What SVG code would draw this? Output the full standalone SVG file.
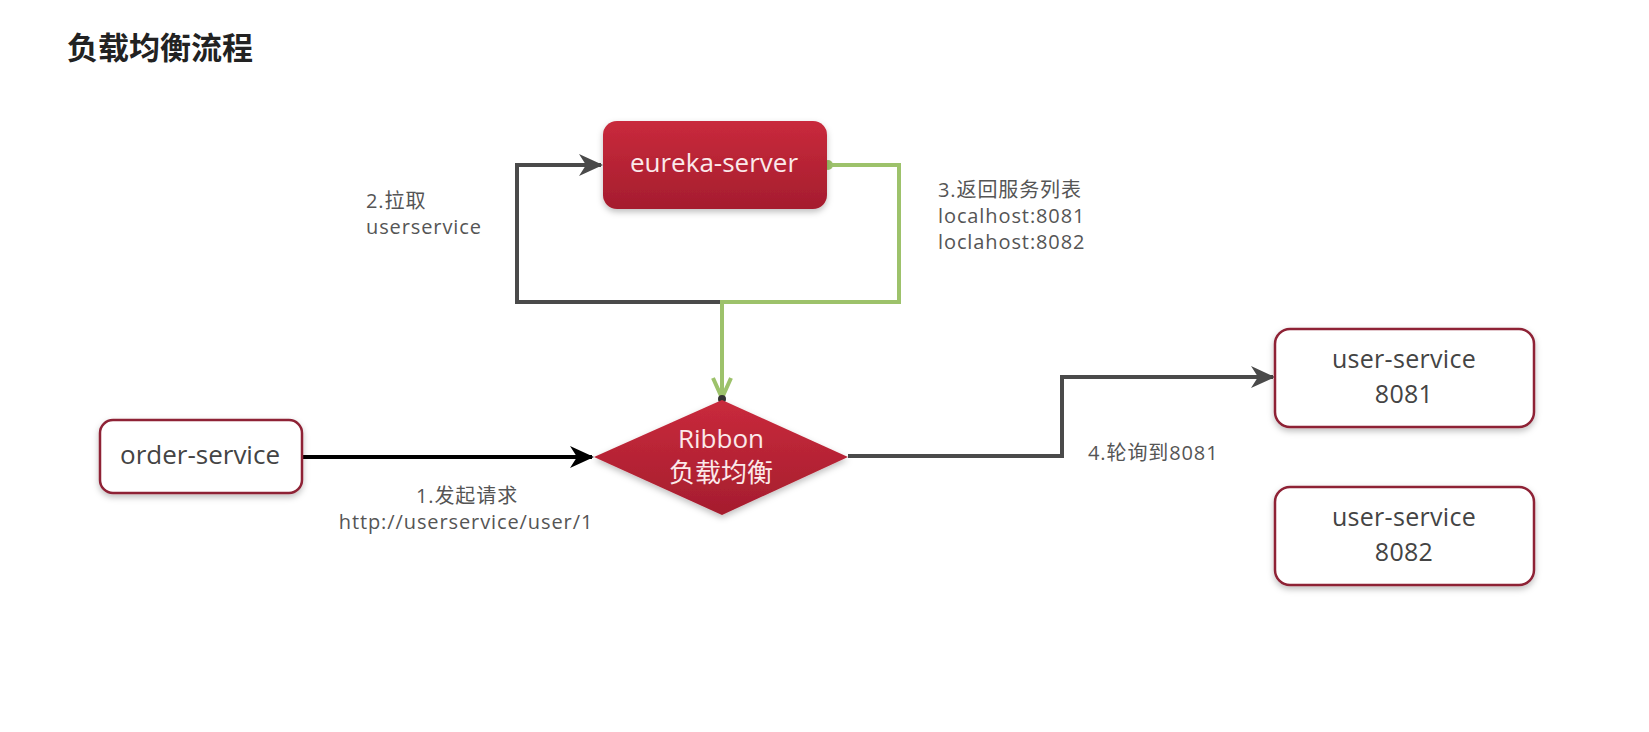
<svg xmlns="http://www.w3.org/2000/svg" width="1649" height="732" viewBox="0 0 1649 732">
<style>
.lbl{font-family:"Open Sans","Noto Sans CJK SC",sans-serif;font-size:20px;letter-spacing:0.9px;fill:#555}
.node-txt{font-family:"Open Sans","Noto Sans CJK SC",sans-serif;font-size:26px;fill:#444;text-anchor:middle}
.us-txt{font-family:"Open Sans","Noto Sans CJK SC",sans-serif;font-size:25px;letter-spacing:0.3px;fill:#444;text-anchor:middle}
.red-txt{font-family:"Open Sans","Noto Sans CJK SC",sans-serif;font-size:26px;fill:#fbe9ea;text-anchor:middle}
.box{fill:#fff;stroke:#8e2236;stroke-width:2.5}
.dark{fill:none;stroke:#4a4a4a;stroke-width:4}
.green{fill:none;stroke:#9dc26b;stroke-width:4}
</style>
<defs>
<linearGradient id="rg" x1="0" y1="0" x2="0" y2="1">
<stop offset="0" stop-color="#c92a3c"/>
<stop offset="1" stop-color="#a51d2e"/>
</linearGradient>
<filter id="sh" x="-20%" y="-20%" width="140%" height="150%">
<feDropShadow dx="0" dy="3" stdDeviation="3" flood-color="#000" flood-opacity="0.25"/>
</filter>
<marker id="ab" viewBox="0 0 24 22" refX="22" refY="11" markerWidth="24" markerHeight="22" markerUnits="userSpaceOnUse" orient="auto">
<path d="M0,0 L24,11 L0,22 L7,11 Z" fill="#000"/>
</marker>
<marker id="ak" viewBox="0 0 24 22" refX="22" refY="11" markerWidth="24" markerHeight="22" markerUnits="userSpaceOnUse" orient="auto">
<path d="M0,0 L24,11 L0,22 L7,11 Z" fill="#4a4a4a"/>
</marker>
<marker id="ag" viewBox="0 0 24 22" refX="22" refY="11" markerWidth="24" markerHeight="22" markerUnits="userSpaceOnUse" orient="auto">
<path d="M2,2 L22,11 L2,20" fill="none" stroke="#9dc26b" stroke-width="4"/>
</marker>
</defs>
<rect width="1649" height="732" fill="#fff"/>
<text x="67" y="59" style="font-family:'Noto Sans CJK SC',sans-serif;font-size:31px;font-weight:bold;fill:#222">负载均衡流程</text>

<g id="connectors">
<path class="dark" d="M722,302 L517,302 L517,165 L601,165" marker-end="url(#ak)"/>
<path class="green" d="M827,165 L899,165 L899,302 L722,302 L722,398" marker-end="url(#ag)"/>
<circle cx="828" cy="165" r="5" fill="#9dc26b"/>
<path d="M302,457 L592,457" fill="none" stroke="#000" stroke-width="4" marker-end="url(#ab)"/>
<path class="dark" d="M848,456 L1062,456 L1062,377 L1273,377" marker-end="url(#ak)"/>
<circle cx="722" cy="399" r="4" fill="#333"/>
</g>

<g id="eureka-server">
<rect x="603" y="121" width="224" height="88" rx="14" fill="url(#rg)" filter="url(#sh)"/>
<text class="red-txt" x="714" y="172">eureka-server</text>
</g>

<g id="ribbon">
<polygon points="722,400 848,457 722,515 594,457" fill="url(#rg)" filter="url(#sh)"/>
<text class="red-txt" x="721" y="448">Ribbon</text>
<text class="red-txt" x="721" y="482">负载均衡</text>
</g>

<g id="order-service">
<rect class="box" x="100" y="420" width="202" height="73" rx="13" filter="url(#sh)"/>
<text class="node-txt" x="200" y="464">order-service</text>
</g>

<g id="user-service-8081">
<rect class="box" x="1275" y="329" width="259" height="98" rx="15" filter="url(#sh)"/>
<text class="us-txt" x="1404" y="368">user-service</text>
<text class="us-txt" x="1404" y="403">8081</text>
</g>

<g id="user-service-8082">
<rect class="box" x="1275" y="487" width="259" height="98" rx="15" filter="url(#sh)"/>
<text class="us-txt" x="1404" y="526">user-service</text>
<text class="us-txt" x="1404" y="561">8082</text>
</g>

<g id="labels">
<text class="lbl" x="366" y="208">2.拉取</text>
<text class="lbl" x="366" y="234">userservice</text>
<text class="lbl" x="938" y="197">3.返回服务列表</text>
<text class="lbl" x="938" y="223">localhost:8081</text>
<text class="lbl" x="938" y="249">loclahost:8082</text>
<text class="lbl" x="467" y="503" text-anchor="middle">1.发起请求</text>
<text class="lbl" x="466" y="529" text-anchor="middle">http://userservice/user/1</text>
<text class="lbl" x="1088" y="460">4.轮询到8081</text>
</g>
</svg>
